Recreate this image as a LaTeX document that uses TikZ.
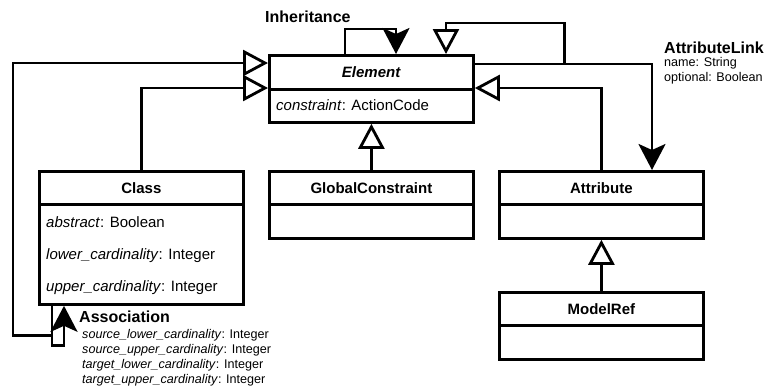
\documentclass[tikz,border=0pt]{standalone}
\usepackage{fontspec}
\setmainfont{Liberation Sans}
\usetikzlibrary{arrows.meta,calc}
\tikzset{
  box/.style={draw, line width=2.8pt, minimum width=204pt, anchor=north west, inner sep=0pt},
  hdr/.style={box, minimum height=33pt, font=\bfseries\fontsize{15}{18}\selectfont},
  bdy/.style={box},
  attr/.style={anchor=west, inner sep=0pt, font=\fontsize{15}{18}\selectfont},
  lbl/.style={anchor=west, inner sep=0pt, font=\bfseries\fontsize{16}{19}\selectfont},
  sml/.style={anchor=west, inner sep=0pt, font=\fontsize{12.6}{15}\selectfont},
  gen/.style={line width=2.8pt, -{Triangle[open, length=25pt, width=26pt]}},
  assoc/.style={line width=2.8pt, -{Stealth[length=26pt, width=27pt, inset=6pt]}},
}
\begin{document}
\begin{tikzpicture}[x=1pt,y=-1pt]
\useasboundingbox (0,0) rectangle (769,389);
% Element
\node[hdr, minimum height=34pt] (el) at (268,54) {\textit{Element}};
\node[bdy, minimum height=33pt] (elb) at (268,88) {};
\node[attr] (elc) at (276,105) {\textit{constraint}: ActionCode};
% Class
\node[hdr] (cl) at (38,170) {Class};
\node[bdy, minimum height=100pt] (clb) at (38,203) {};
\node[attr] (cl1) at (46,222) {\textit{abstract}: Boolean};
\node[attr] (cl2) at (46,256) {\textit{lower\_cardinality}: Integer};
\node[attr] (cl3) at (46,288) {\textit{upper\_cardinality}: Integer};
% GlobalConstraint
\node[hdr] (gc) at (268,170) {GlobalConstraint};
\node[bdy, minimum height=34pt] (gcb) at (268,203) {};
% Attribute
\node[hdr] (at) at (498,170) {Attribute};
\node[bdy, minimum height=34pt] (atb) at (498,203) {};
% ModelRef
\node[hdr] (mr) at (498,291) {ModelRef};
\node[bdy, minimum height=34pt] (mrb) at (498,324) {};
% Labels
\node[lbl] (inh) at (265,17) {Inheritance};
\node[lbl] (asl) at (79,317) {Association};
\node[sml] (as1) at (82,335) {\textit{source\_lower\_cardinality}: Integer};
\node[sml] (as2) at (82,350) {\textit{source\_upper\_cardinality}: Integer};
\node[sml] (as3) at (82,365) {\textit{target\_lower\_cardinality}: Integer};
\node[sml] (as4) at (82,380) {\textit{target\_upper\_cardinality}: Integer};
\node[lbl] (all) at (664,48) {AttributeLink};
\node[sml] (al1) at (664,63) {name: String};
\node[sml] (al2) at (664,78) {optional: Boolean};
% Generalizations
\draw[gen] (cl.north) |- (elb.north west);
\draw[gen] (gc.north) -- (elb.south);
\draw[gen] (at.north) |- (elb.north east);
\draw[gen] (mr.north) -- (atb.south);
% AttributeLink association
\draw[assoc] ($(el.north east)+(0,10)$) -| ($(at.north west)+(154,0)$);
\coordinate (lk) at ($(el.north east)+(90,10)$);
\draw[gen] (lk) -- ++(0,-41) -| ($(el.north west)+(178,0)$);
% Inheritance self-loop
\draw[assoc] ($(el.north west)+(77,0)$) -- ++(0,-25) -| ($(el.north west)+(128,0)$);
% Association self-loop
\draw[assoc] ($(clb.south west)+(14,0)$) -- ++(0,40) -| ($(clb.south west)+(26,0)$);
\coordinate (as) at ($(clb.south west)+(14,30)$);
\draw[gen] (as) -- ++(-39,0) |- ($(el.north west)+(0,9)$);
\end{tikzpicture}
\end{document}
